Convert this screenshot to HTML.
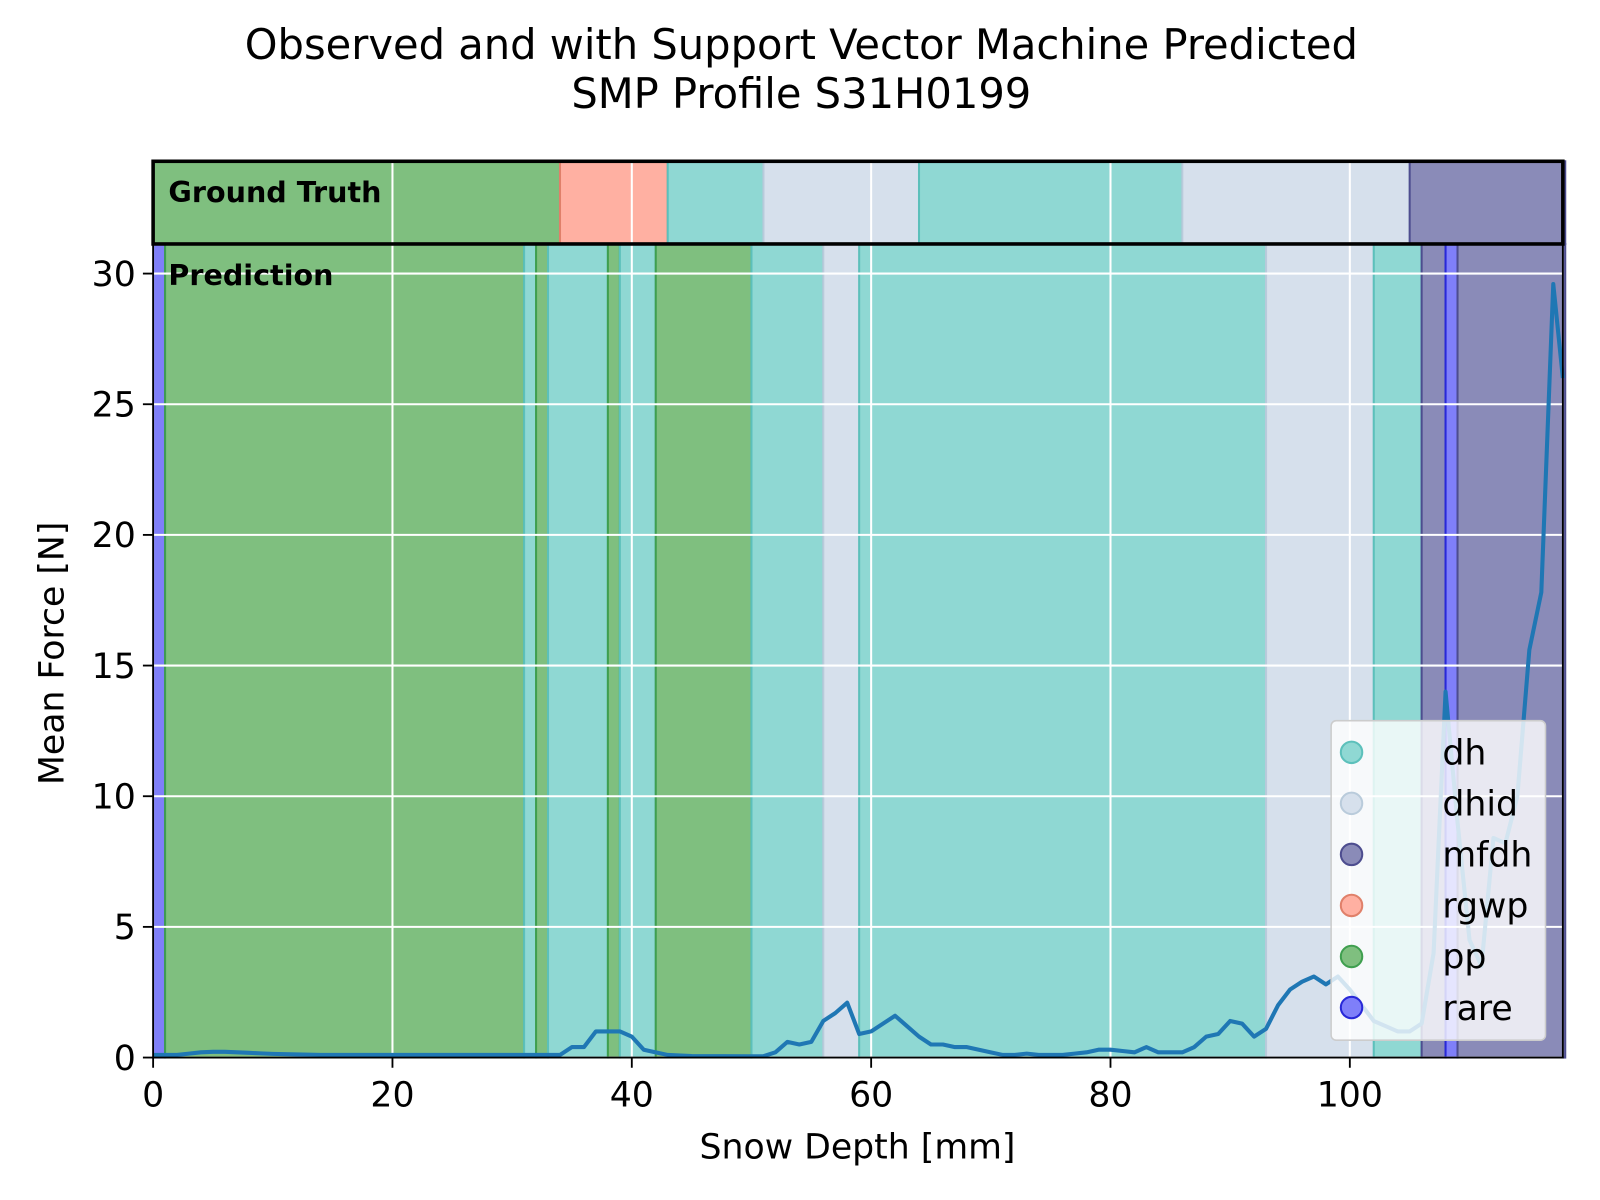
<!DOCTYPE html>
<html><head><meta charset="utf-8"><style>
html,body{margin:0;padding:0;background:#fff;overflow:hidden;width:1600px;height:1200px}
svg{display:block}
svg text{font-family:"DejaVu Sans","Liberation Sans",sans-serif}
</style></head><body>
<svg id="chart" width="1600" height="1200" viewBox="0 0 1600 1200" xmlns="http://www.w3.org/2000/svg">
<rect width="1600" height="1200" fill="#fff"/>
<g transform="scale(1.0208)">
<text x="785" y="58" font-size="40.8" text-anchor="middle">Observed and with Support Vector Machine Predicted</text>
<text x="785" y="106" font-size="40.8" text-anchor="middle">SMP Profile S31H0199</text>
<g id="bands"></g>
<g id="grid"></g>
<g id="line"></g>
<g id="axes"></g>
<g id="legend"></g>
</g>
</svg>
<script>
const truthStarts=[0,34,43,51,64,86,105];
const truthEnds=[34,43,51,64,86,105,118];
const truthClass=["pp","rgwp","dh","dhid","dh","dhid","mfdh"];
const predStarts=[0,1,31,32,33,38,39,42,50,56,59,93,102,106,108,109];
const predEnds=[1,31,32,33,38,39,42,50,56,59,93,102,106,108,109,118];
const predClass=["rare","pp","dh","pp","dh","pp","dh","pp","dh","dhid","dh","dhid","dh","mfdh","rare","mfdh"];
const depth=[0,1,2,3,4,5,6,7,8,9,10,12,14,16,18,20,25,30,34,35,36,37,38,39,40,41,42,43,45,50,51,52,53,54,55,56,57,58,59,60,61,62,63,64,65,66,67,68,69,70,71,72,73,74,75,76,77,78,79,80,81,82,83,84,85,86,87,88,89,90,91,92,93,94,95,96,97,98,99,100,101,102,103,104,105,106,107,108,109,110,111,112,113,114,115,116,117,117.8];
const force=[0.1,0.1,0.1,0.15,0.2,0.22,0.22,0.2,0.18,0.16,0.14,0.12,0.1,0.1,0.1,0.1,0.1,0.1,0.1,0.4,0.4,1.0,1.0,1.0,0.8,0.3,0.2,0.1,0.06,0.05,0.05,0.2,0.6,0.5,0.6,1.4,1.7,2.1,0.9,1.0,1.3,1.6,1.2,0.8,0.5,0.5,0.4,0.4,0.3,0.2,0.1,0.1,0.15,0.1,0.1,0.1,0.15,0.2,0.3,0.3,0.25,0.2,0.4,0.2,0.2,0.2,0.4,0.8,0.9,1.4,1.3,0.8,1.1,2.0,2.6,2.9,3.1,2.8,3.1,2.6,2.0,1.4,1.2,1.0,1.0,1.3,4.0,14.0,9.0,4.5,3.5,8.4,8.2,10.0,15.6,17.8,29.6,26.0];
const xTicks=[0,20,40,60,80,100];
const yTicks=[0,5,10,15,20,25,30];
const legendLabels=["dh","dhid","mfdh","rgwp","pp","rare"];
const fills={dh:"#8fd8d3",dhid:"#d6e0ec",mfdh:"#8a8bb8",rgwp:"#ffb0a2",pp:"#7fbf7f",rare:"#7f7ff9"};
const edges={dh:"#5cc0bb",dhid:"#b9cbdb",mfdh:"#4d4d8f",rgwp:"#e0806a",pp:"#3f9f4f",rare:"#2828d8"};
const X0=150,X1=1531,Y0=1036,PT=239,GT=158;
const xs=v=>X0+(v/117.8)*(X1-X0);
const ys=v=>Y0-v*25.6;
const NS="http://www.w3.org/2000/svg";
function mk(t,a,p){const e=document.createElementNS(NS,t);for(const k in a)e.setAttribute(k,a[k]);p.appendChild(e);return e;}
const bands=document.getElementById('bands');
truthStarts.forEach((s,i)=>{const c=truthClass[i];
 const r=mk('rect',{x:xs(s),y:GT,width:xs(truthEnds[i])-xs(s),height:PT-GT,fill:fills[c],stroke:edges[c],'stroke-width':2},bands);
 
 });
predStarts.forEach((s,i)=>{const c=predClass[i];
 const r=mk('rect',{x:xs(s),y:PT,width:xs(predEnds[i])-xs(s),height:Y0-PT,fill:fills[c],stroke:edges[c],'stroke-width':2},bands);
 
 });
const grid=document.getElementById('grid');
xTicks.forEach(t=>{const l=mk('line',{x1:xs(t),x2:xs(t),y1:GT,y2:Y0,stroke:'#fff','stroke-width':2},grid);
 
 });
yTicks.forEach(t=>{const l=mk('line',{x1:X0,x2:X1,y1:ys(t),y2:ys(t),stroke:'#fff','stroke-width':2},grid);
 
 });
const pl=mk('polyline',{points:depth.map((d,i)=>xs(d)+','+ys(force[i])).join(' '),fill:'none',stroke:'#1f77b4','stroke-width':4,'stroke-linejoin':'round'},document.getElementById('line'));


const ax=document.getElementById('axes');
const frame=mk('rect',{x:X0,y:PT,width:X1-X0,height:Y0-PT,fill:'none',stroke:'#000','stroke-width':1.8},ax);


const gtf=mk('rect',{x:X0,y:GT,width:X1-X0,height:PT-GT,fill:'none',stroke:'#000','stroke-width':3.5},ax);


const t1=mk('text',{x:165,y:198,'font-size':28,'font-weight':'bold'},ax);t1.textContent='Ground Truth';


const t2=mk('text',{x:165,y:279,'font-size':28,'font-weight':'bold'},ax);t2.textContent='Prediction';


xTicks.forEach(t=>{mk('line',{x1:xs(t),x2:xs(t),y1:Y0,y2:Y0+10,stroke:'#000','stroke-width':1.8},ax);
 const tx=mk('text',{x:xs(t),y:Y0+48,'font-size':34,'text-anchor':'middle'},ax);tx.textContent=t;
 
 });
yTicks.forEach(t=>{mk('line',{x1:X0-10,x2:X0,y1:ys(t),y2:ys(t),stroke:'#000','stroke-width':1.8},ax);
 const tx=mk('text',{x:X0-17,y:ys(t)+12,'font-size':34,'text-anchor':'end'},ax);tx.textContent=t;
 
 });
const xl=mk('text',{x:840,y:1135,'font-size':34,'text-anchor':'middle'},ax);xl.textContent='Snow Depth [mm]';


const yl=mk('text',{x:62,y:640,'font-size':34,'text-anchor':'middle',transform:'rotate(-90 62 640)'},ax);yl.textContent='Mean Force [N]';


const lg=document.getElementById('legend');
const box=mk('rect',{x:1304,y:706,width:210,height:313,rx:5,fill:'rgba(255,255,255,0.8)',stroke:'#ccc','stroke-width':1.5},lg);


legendLabels.forEach((c,i)=>{const y=737+i*50;
 const g=mk('g',{},lg);
 
 
 mk('circle',{cx:1324,cy:y,r:10.5,fill:fills[c],stroke:edges[c],'stroke-width':2},g);
 const tx=mk('text',{x:1413,y:y+12,'font-size':34},g);tx.textContent=c;});
</script>
</body></html>
